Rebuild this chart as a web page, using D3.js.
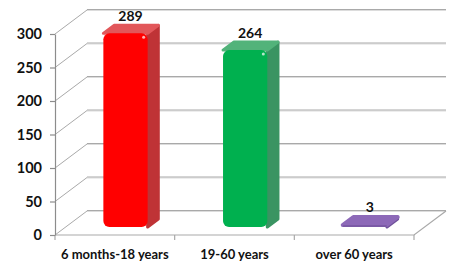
<!DOCTYPE html>
<html>
<head>
<meta charset="utf-8">
<script src="https://cdn.jsdelivr.net/npm/d3@7"></script>
<style>
  body { margin: 0; background: #fff; }
  text { font-family: Lato, "Open Sans", sans-serif; font-weight: bold; fill: #111; }
</style>
</head>
<body>
<div class="chart"></div>
<script>
const categories = ["6 months-18 years", "19-60 years", "over 60 years"]
const values = [289, 264, 3]
const yTicks = [0, 50, 100, 150, 200, 250, 300]

const width = 470
const height = 276
const plotLeft = 55
const plotRight = 414
const plotBottom = 235
const plotTop = 34
const depth = [32, -24]   // 3d depth of the floor / walls
const gridColor = "#a9a9a9"

// front, side, top colours per bar
const faces = [
    { front: "#ff0000", side: "#bf3336", top: "#e2575a" },
    { front: "#00b04f", side: "#3a9462", top: "#52b37a" },
    { front: "#7b5aa6", side: "#6f519a", top: "#8d69b8" }
]

const x = d3.scaleBand()
    .domain(categories)
    .range([plotLeft, plotRight])

const y = d3.scaleLinear()
    .domain([0, 300])
    .range([plotBottom, plotTop])

const svg = d3.select(".chart")
    .append("svg")
    .attr("width", width)
    .attr("height", height)

// back wall + left wall grid
const grid = svg.append("g")
grid.selectAll(".back")
    .data(yTicks)
    .join("line")
    .attr("x1", plotLeft + depth[0])
    .attr("x2", plotRight + depth[0])
    .attr("y1", d => y(d) + depth[1] + 0.5)
    .attr("y2", d => y(d) + depth[1] + 0.5)
    .attr("stroke", "#dcdcdc")
    .attr("stroke-width", 1)
grid.selectAll(".backline")
    .data(yTicks)
    .join("line")
    .attr("x1", plotLeft + depth[0])
    .attr("x2", plotRight + depth[0])
    .attr("y1", d => y(d) + depth[1] - 0.5)
    .attr("y2", d => y(d) + depth[1] - 0.5)
    .attr("stroke", gridColor)
    .attr("stroke-width", 1.2)
grid.selectAll(".diag")
    .data(yTicks)
    .join("line")
    .attr("x1", plotLeft)
    .attr("y1", d => y(d))
    .attr("x2", plotLeft + depth[0])
    .attr("y2", d => y(d) + depth[1])
    .attr("stroke", gridColor)
    .attr("stroke-width", 1)

// floor front + right edge
svg.append("path")
    .attr("d", `M${plotLeft},${plotBottom}H${plotRight}L${plotRight + depth[0]},${plotBottom + depth[1]}`)
    .attr("fill", "none")
    .attr("stroke", gridColor)
    .attr("stroke-width", 1.2)

// category boundary ticks
svg.append("g")
    .selectAll("line")
    .data(categories.map(c => x(c)).concat([plotRight]))
    .join("line")
    .attr("x1", d => d)
    .attr("x2", d => d)
    .attr("y1", plotBottom)
    .attr("y2", plotBottom + 5)
    .attr("stroke", gridColor)
    .attr("stroke-width", 1.2)

// y axis
svg.append("g")
    .attr("transform", `translate(${plotLeft},0)`)
    .call(d3.axisLeft(y).tickValues(yTicks).tickSize(5).tickSizeOuter(0).tickPadding(8))
    .call(g => g.selectAll("path, line").attr("stroke", "#8c8c8c").attr("stroke-width", 1.2))
    .call(g => g.selectAll("text").attr("font-size", 14.5).attr("fill", "#111"))

// x labels
svg.append("g")
    .attr("transform", `translate(0,${plotBottom})`)
    .call(d3.axisBottom(x).tickSize(0).tickPadding(15))
    .call(g => g.select(".domain").remove())
    .call(g => g.selectAll("text").attr("font-size", 13).attr("fill", "#111"))

// bars
const barW = x.bandwidth() * 0.37
const f = [depth[0] / 3, depth[1] / 3]   // bar sits between 1/3 and 2/3 depth

const bars = svg.append("g")
    .selectAll("g")
    .data(values)
    .join("g")

bars.each(function (v, i) {
    const g = d3.select(this)
    const cx = x(categories[i]) + x.bandwidth() / 2 + f[0]
    const x0 = cx - barW / 2
    const x1 = cx + barW / 2
    const yb = y(0) + f[1]
    const yt = y(v) + f[1]
    const c = faces[i]

    g.append("path")
        .attr("d", `M${x1},${yt}L${x1 + f[0]},${yt + f[1]}L${x1 + f[0]},${yb + f[1]}L${x1},${yb}Z`)
        .attr("fill", c.side)
        .attr("stroke", c.side)
        .attr("stroke-width", 3)
        .attr("stroke-linejoin", "round")
    g.append("path")
        .attr("d", `M${x0},${yt}L${x0 + f[0]},${yt + f[1]}L${x1 + f[0]},${yt + f[1]}L${x1},${yt}Z`)
        .attr("fill", c.top)
        .attr("stroke", c.top)
        .attr("stroke-width", v > 20 ? 3 : 4)
        .attr("stroke-linejoin", "round")
    g.append("rect")
        .attr("x", x0)
        .attr("y", yt)
        .attr("width", barW)
        .attr("height", Math.max(yb - yt, 1))
        .attr("rx", Math.min(6, (yb - yt) / 2))
        .attr("fill", c.front)
    if (v > 20) {
        g.append("circle")
            .attr("cx", x1 - 4)
            .attr("cy", yt + 4)
            .attr("r", 1.5)
            .attr("fill", "#ffffff")
            .attr("opacity", 0.7)
    }

    g.append("text")
        .attr("x", cx + 5)
        .attr("y", yt + f[1] - 10)
        .attr("text-anchor", "middle")
        .attr("dominant-baseline", "central")
        .attr("font-size", 14)
        .text(v)
})
</script>
</body>
</html>
